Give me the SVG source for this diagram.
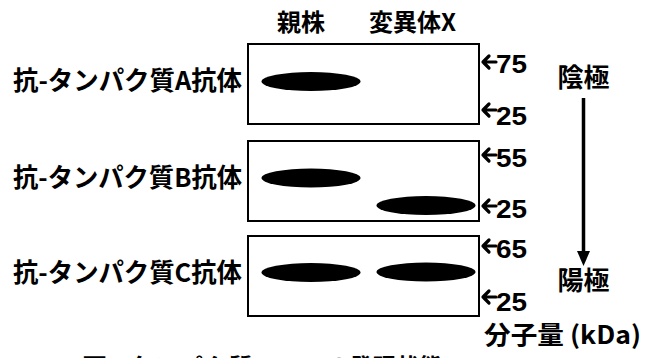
<svg xmlns="http://www.w3.org/2000/svg" width="646" height="358" viewBox="0 0 646 358">
  <style>
    .jp { font-family: "Noto Sans CJK JP", "Noto Sans", sans-serif; font-weight: bold; fill: #000; }
    .num { font-family: "Liberation Sans", Arial, sans-serif; font-weight: bold; fill: #000; font-size: 26px; }
    .box { fill: #fff; stroke: #000; stroke-width: 2; }
    .band { fill: #000; }
    .mk { fill: none; stroke: #000; stroke-width: 3.2; stroke-linecap: round; stroke-linejoin: round; }
  </style>
  <rect width="646" height="358" fill="#fff"/>

  <g id="col-labels">
    <text class="jp" x="277" y="31" font-size="24">親株</text>
    <text class="jp" x="369" y="31" font-size="24">変異体X</text>
  </g>

  <g id="blot-A">
    <text class="jp" x="13" y="90" font-size="26" textLength="229" lengthAdjust="spacingAndGlyphs">抗-タンパク質A抗体</text>
    <rect class="box" x="248" y="44" width="231" height="80"/>
    <ellipse class="band" cx="311" cy="81.5" rx="49.5" ry="9.5"/>
  </g>

  <g id="blot-B">
    <text class="jp" x="13" y="187" font-size="26" textLength="229" lengthAdjust="spacingAndGlyphs">抗-タンパク質B抗体</text>
    <rect class="box" x="248" y="141" width="231" height="80"/>
    <ellipse class="band" cx="311" cy="178" rx="49.5" ry="9.5"/>
    <ellipse class="band" cx="426" cy="205.5" rx="49.5" ry="9.5"/>
  </g>

  <g id="blot-C">
    <text class="jp" x="13" y="282" font-size="26" textLength="229" lengthAdjust="spacingAndGlyphs">抗-タンパク質C抗体</text>
    <rect class="box" x="248" y="236" width="231" height="80"/>
    <ellipse class="band" cx="311" cy="272.5" rx="49.5" ry="9.5"/>
    <ellipse class="band" cx="426" cy="272" rx="49.5" ry="9.5"/>
  </g>

  <g id="markers">
    <path class="mk" d="M489,56 L483,62 L489,68 M483,62 H496"/>
    <text class="num" x="496" y="73" textLength="31" lengthAdjust="spacingAndGlyphs">75</text>
    <path class="mk" d="M489,104 L483,110 L489,116 M483,110 H496"/>
    <text class="num" x="496" y="125" textLength="31" lengthAdjust="spacingAndGlyphs">25</text>
    <path class="mk" d="M489,149 L483,155 L489,161 M483,155 H496"/>
    <text class="num" x="496" y="167" textLength="31" lengthAdjust="spacingAndGlyphs">55</text>
    <path class="mk" d="M489,200 L483,206 L489,212 M483,206 H496"/>
    <text class="num" x="496" y="218" textLength="31" lengthAdjust="spacingAndGlyphs">25</text>
    <path class="mk" d="M489,240 L483,246 L489,252 M483,246 H496"/>
    <text class="num" x="496" y="258" textLength="31" lengthAdjust="spacingAndGlyphs">65</text>
    <path class="mk" d="M489,291 L483,297 L489,303 M483,297 H496"/>
    <text class="num" x="496" y="311" textLength="31" lengthAdjust="spacingAndGlyphs">25</text>
    <text class="jp" x="484" y="344" font-size="25" textLength="157" lengthAdjust="spacingAndGlyphs">分子量 (kDa)</text>
  </g>

  <g id="electrodes">
    <text class="jp" x="583.5" y="87" font-size="26" text-anchor="middle">陰極</text>
    <line x1="583.5" y1="98" x2="583.5" y2="256" stroke="#000" stroke-width="3.5"/>
    <path d="M577,251 L590,251 L583.5,266 Z" fill="#000"/>
    <text class="jp" x="583.5" y="290" font-size="26" text-anchor="middle">陽極</text>
  </g>

  <g id="caption">
    <text class="jp" x="82" y="375" font-size="23" textLength="171" lengthAdjust="spacingAndGlyphs">図3 タンパク質</text>
    <text class="jp" x="327" y="375" font-size="23">の発現状態</text>
  </g>
</svg>
